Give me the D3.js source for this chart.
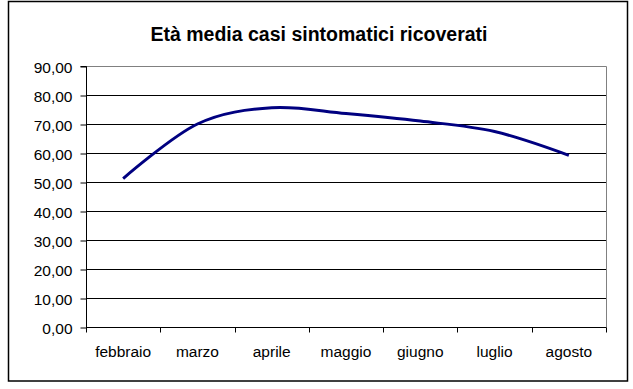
<!DOCTYPE html>
<html><head><meta charset="utf-8">
<script src="https://cdn.jsdelivr.net/npm/d3@7"></script>
<style>body{margin:0;background:#fff}svg{display:block}text{font-family:"Liberation Sans",Arial,sans-serif}</style>
</head><body>
<svg id="c" width="633" height="389"></svg>
<script>
const title = "Età media casi sintomatici ricoverati";
const categories = ["febbraio","marzo","aprile","maggio","giugno","luglio","agosto"];
const values = [51.2, 70.0, 75.6, 73.6, 71.0, 67.4, 59.2];
const yTicks = [0,10,20,30,40,50,60,70,80,90];

const svg = d3.select("#c");
const L = 86, R = 606, T = 66, B = 327;

svg.append("rect").attr("x",8.5).attr("y",1.5).attr("width",619).attr("height",379.5)
  .attr("fill","#fff").attr("stroke","#000").attr("stroke-width",1.5);

svg.append("text").attr("x",319).attr("y",41).attr("text-anchor","middle")
  .attr("font-size",19.5).attr("font-weight","bold").text(title);

const x = d3.scaleBand().domain(categories).range([L,R]).padding(0);
const y = d3.scaleLinear().domain([0,90]).range([B,T]);

// gridlines
svg.append("g").selectAll("line").data(yTicks.filter(d=>d>0 && d<90)).join("line")
  .attr("x1",L).attr("x2",R).attr("y1",d=>Math.round(y(d))+0.5).attr("y2",d=>Math.round(y(d))+0.5)
  .attr("stroke","#000").attr("stroke-width",1);

// plot border top/right grey
svg.append("path").attr("d",`M${L},${T+0.5}H${R+0.5}V${B}`).attr("fill","none").attr("stroke","#808080").attr("stroke-width",1);

// y axis
const ya = d3.axisLeft(y).tickValues(yTicks).tickSize(6).tickPadding(8)
  .tickFormat(d=>d3.format(".2f")(d).replace(".",","));
const gy = svg.append("g").attr("transform",`translate(${L+0.5},0.5)`).call(ya);
gy.select(".domain").attr("d",`M-6,${T}H0V${B}`).attr("stroke","#000");
gy.selectAll(".tick line").attr("stroke","#000");
gy.selectAll("text").attr("font-size",15.5).attr("fill","#000").attr("font-family","Liberation Sans, Arial, sans-serif").attr("dy","0.36em");

// x axis: ticks between categories
const gx = svg.append("g").attr("transform",`translate(0,${B+0.5})`);
gx.append("line").attr("x1",L).attr("x2",R+0.5).attr("stroke","#000");
const bounds = categories.map(c=>x(c)).concat([R]);
gx.selectAll("line.tk").data(bounds).join("line").attr("class","tk")
  .attr("x1",d=>Math.round(d)+0.5).attr("x2",d=>Math.round(d)+0.5).attr("y1",0).attr("y2",5).attr("stroke","#000");
gx.selectAll("text").data(categories).join("text")
  .attr("x",d=>x(d)+x.bandwidth()/2).attr("y",29).attr("text-anchor","middle")
  .attr("font-size",15.5).attr("fill","#000").text(d=>d);

// line
const line = d3.line().x((d,i)=>x(categories[i])+x.bandwidth()/2).y(d=>y(d)).curve(d3.curveCatmullRom.alpha(0));
svg.append("path").datum(values).attr("d",line).attr("fill","none").attr("stroke","#000080").attr("stroke-width",3);
</script>
</body></html>
